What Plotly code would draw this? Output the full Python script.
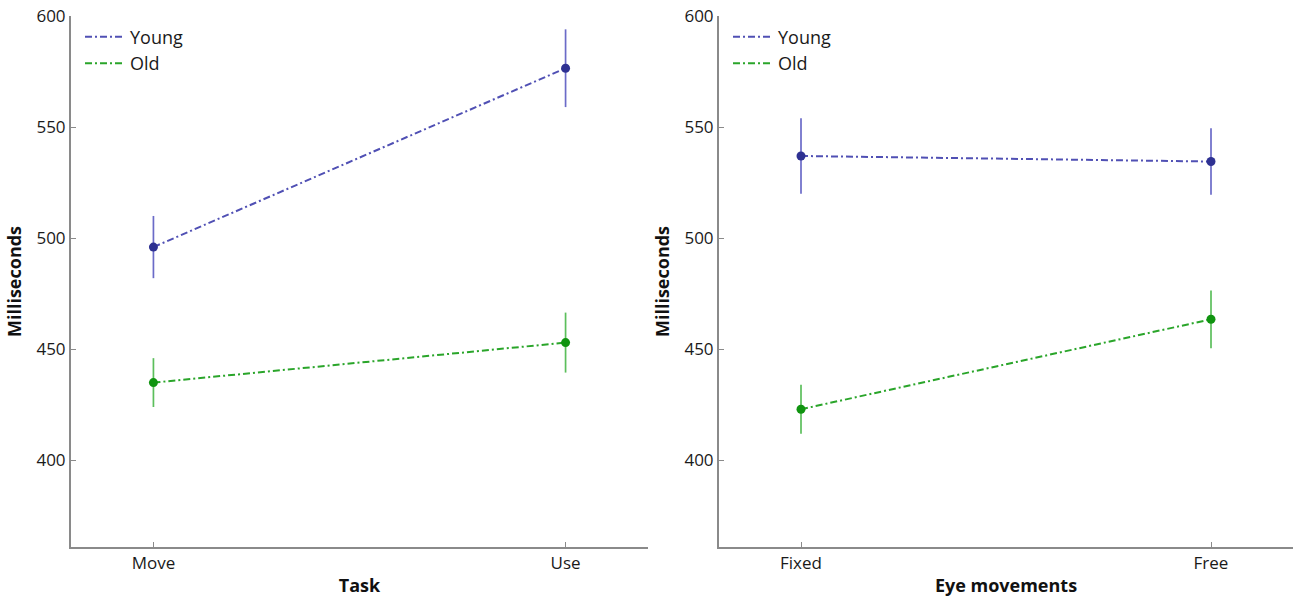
import plotly.graph_objects as go

# Mean response times (ms) with error bar half-widths
task_labels = ["Move", "Use"]
task_young = [496, 576.5]
task_young_err = [14, 17.5]
task_old = [435, 453]
task_old_err = [11, 13.5]

eye_labels = ["Fixed", "Free"]
eye_young = [537, 534.5]
eye_young_err = [17, 15]
eye_old = [423, 463.5]
eye_old_err = [11, 13]

W, H = 1293, 601
young_line = "#5050b4"
young_dot = "#2e3192"
young_bar = "#6b6bc8"
old_line = "#2aa52a"
old_dot = "#109410"
old_bar = "#5cbf5c"
dash = "7px,3px,2px,3px"
font_family = "Open Sans, Lato, sans-serif"

fig = go.Figure()


def add_series(xaxis, yaxis, labels, vals, errs, lc, mc, bc):
    fig.add_trace(go.Scatter(
        x=[1, 2], y=vals, xaxis=xaxis, yaxis=yaxis,
        mode="lines+markers",
        line=dict(color=lc, width=2, dash=dash),
        marker=dict(color=mc, size=9),
        error_y=dict(type="data", array=errs, color=bc, thickness=1.7, width=0),
        showlegend=False, hoverinfo="y",
        customdata=labels,
    ))


add_series("x", "y", task_labels, task_young, task_young_err, young_line, young_dot, young_bar)
add_series("x", "y", task_labels, task_old, task_old_err, old_line, old_dot, old_bar)
add_series("x2", "y2", eye_labels, eye_young, eye_young_err, young_line, young_dot, young_bar)
add_series("x2", "y2", eye_labels, eye_old, eye_old_err, old_line, old_dot, old_bar)

# Legend entries (line samples only)
for leg in ["legend", "legend2"]:
    for name, lc in [("Young", young_line), ("Old", old_line)]:
        fig.add_trace(go.Scatter(
            x=[None], y=[None], mode="lines", name=name,
            line=dict(color=lc, width=2, dash=dash),
            legend=leg, showlegend=True,
            xaxis="x" if leg == "legend" else "x2",
            yaxis="y" if leg == "legend" else "y2",
        ))

axis_line = "#8a8a8a"
tick_font = dict(family=font_family, size=17, color="#1a1a1a")
title_font = dict(family=font_family, size=18, color="#111111")
legend_font = dict(family=font_family, size=18, color="#1a1a1a")

common_x = dict(
    range=[0.8, 2.2], tickmode="array", tickvals=[1, 2],
    showline=True, linecolor=axis_line, linewidth=2,
    ticks="inside", ticklen=5, tickcolor=axis_line, tickwidth=1,
    showgrid=False, zeroline=False, tickfont=tick_font,
)
common_y = dict(
    range=[361, 600], tickmode="array", tickvals=[400, 450, 500, 550, 600],
    showline=True, linecolor=axis_line, linewidth=2,
    ticks="inside", ticklen=5, tickcolor=axis_line, tickwidth=1,
    showgrid=False, zeroline=False, tickfont=tick_font,
    title=dict(text="<b>Milliseconds</b>", font=title_font, standoff=10),
)

fig.update_layout(
    width=W, height=H,
    margin=dict(l=0, r=0, t=16, b=54),
    paper_bgcolor="white", plot_bgcolor="white",
    font=dict(family=font_family),
    xaxis=dict(common_x, domain=[71 / W, 648 / W], ticktext=task_labels,
               title=dict(text="<b>Task</b>", font=title_font, standoff=6),
               anchor="y"),
    yaxis=dict(common_y, domain=[0, 1], anchor="x"),
    xaxis2=dict(common_x, domain=[719 / W, 1.0], ticktext=eye_labels,
                title=dict(text="<b>Eye movements</b>", font=title_font, standoff=6),
                anchor="y2"),
    yaxis2=dict(common_y, domain=[0, 1], anchor="x2"),
    legend=dict(x=80 / W, y=0.995, xanchor="left", yanchor="top",
                font=legend_font, bgcolor="rgba(0,0,0,0)",
                tracegroupgap=0, itemwidth=40),
    legend2=dict(x=728 / W, y=0.995, xanchor="left", yanchor="top",
                 font=legend_font, bgcolor="rgba(0,0,0,0)",
                 tracegroupgap=0, itemwidth=40),
)

fig.write_html("out.html")
